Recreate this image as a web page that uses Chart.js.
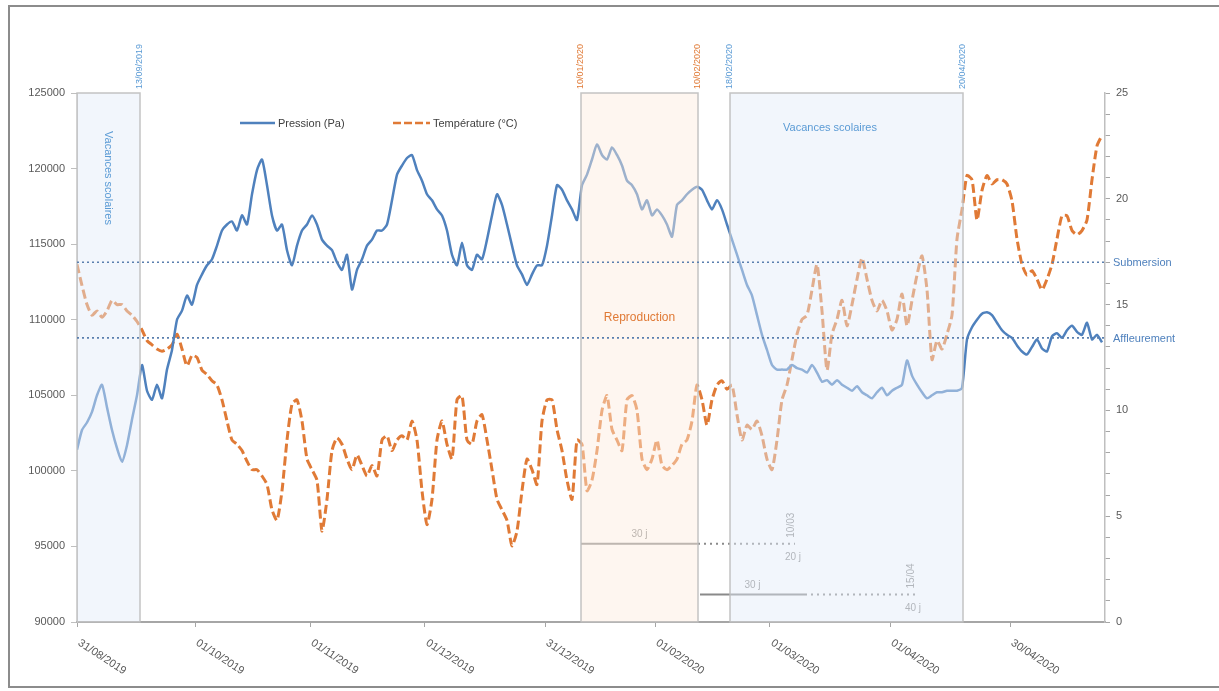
<!DOCTYPE html>
<html>
<head>
<meta charset="utf-8">
<script src="https://cdn.jsdelivr.net/npm/chart.js@4.4.1/dist/chart.umd.min.js"></script>
<style>
  html, body { margin: 0; padding: 0; background: #fff; }
</style>
</head>
<body>
<canvas id="chart" width="1219" height="691"></canvas>
<script>
// one sample per day, day 0 = first sample
const pressure = [
  101400, 102700, 103200, 103900, 105000, 105700, 104200, 102700, 101500, 100600, 101700, 103400, 105000,
  107000, 105300, 104700, 105700, 104800, 106700, 108000, 110000, 110600, 111600, 111000, 112300,
  113000, 113600, 114000, 114900, 115900, 116300, 116500, 115900, 116900, 116300, 118300, 119900,
  120600, 118900, 116900, 115900, 116300, 114600, 113600, 114900, 115900, 116300, 116900, 116300,
  115300, 114900, 114600, 113800, 113300, 114300, 112000, 113300, 114000, 114900, 115300, 115900,
  115900, 116300, 117900, 119600, 120200, 120700, 120900, 119900, 119200, 118300, 117900, 117300,
  116900, 115900, 114300, 113600, 115100, 113600, 113300, 114300, 114000, 115300, 116900, 118300,
  117600, 116300, 114900, 113600, 113000, 112300, 113000, 113600, 113600, 114900, 116900, 118900,
  118600, 117900, 117300, 116600, 118900, 119600, 120600, 121600, 120900, 120600, 121400, 120900,
  120200, 119200, 118900, 118300, 117300, 117900, 116900, 117300, 116900, 116300, 115500, 117600,
  117900, 118300, 118600, 118800, 118600, 117900, 117300, 117900, 117300, 116300, 115300, 114300,
  113300, 112300, 111600, 110300, 109000, 108000, 107000, 106700, 106700, 106700, 107000, 106800,
  106700, 106500, 107000, 106500, 105900, 106000, 105700, 106000, 105700, 105500, 105300, 105600,
  105200, 105000, 104800, 105200, 105500, 105000, 105300, 105500, 105700, 107300, 106300, 105700,
  105200, 104800, 105000, 105200, 105200, 105300, 105300, 105300, 105500, 108700, 109500, 110000,
  110400, 110500, 110300, 109800, 109300, 109000, 108800, 108300, 107900, 107700, 108200, 108700,
  108100, 107900, 108900, 109100, 108800, 109300, 109600, 109200, 109000, 109800, 108700, 109000, 108500
];
const temperature = [
  16.9, 15.9, 15.0, 14.5, 14.7, 14.4, 14.7, 15.2, 15.0, 15.0, 14.7, 14.5, 14.2,
  13.8, 13.3, 13.1, 12.9, 12.8, 12.9, 13.1, 13.6, 12.9, 12.1, 12.6, 12.5,
  11.9, 11.7, 11.4, 11.2, 10.5, 9.5, 8.6, 8.4, 8.1, 7.6, 7.2, 7.2,
  6.9, 6.5, 5.3, 4.8, 6.2, 8.6, 10.3, 10.5, 9.5, 7.7, 7.2, 6.7,
  4.3, 5.8, 8.1, 8.7, 8.4, 7.7, 7.2, 7.9, 7.4, 6.9, 7.4, 6.9,
  8.6, 8.8, 8.1, 8.6, 8.8, 8.6, 9.5, 8.6, 6.2, 4.6, 5.8, 8.6,
  9.5, 8.4, 7.7, 10.5, 10.7, 8.6, 8.4, 9.5, 9.8, 8.6, 7.2, 5.8,
  5.3, 4.8, 3.6, 4.3, 6.2, 7.7, 7.2, 6.5, 9.5, 10.5, 10.5, 9.1,
  8.1, 6.7, 5.8, 8.6, 8.4, 6.2, 6.7, 8.1, 10.0, 10.7, 9.1, 8.6,
  8.1, 10.5, 10.7, 10.0, 7.7, 7.2, 7.7, 8.6, 7.4, 7.2, 7.4, 7.7,
  8.4, 8.6, 9.5, 11.2, 10.5, 9.3, 10.5, 11.2, 11.4, 11.0, 11.2, 9.8,
  8.6, 9.3, 9.1, 9.5, 8.8, 7.7, 7.2, 8.6, 10.5, 11.2, 12.4, 13.6,
  14.3, 14.5, 15.7, 16.9, 14.7, 11.9, 13.6, 14.3, 15.2, 14.0, 15.0, 16.2,
  17.2, 16.2, 15.2, 14.7, 15.2, 14.7, 13.8, 14.3, 15.5, 14.0, 15.2, 16.4,
  17.3, 15.7, 12.4, 13.3, 12.9, 13.6, 14.5, 18.1, 19.5, 21.1, 20.9, 19.0,
  20.4, 21.1, 20.7, 20.9, 20.9, 20.7, 19.9, 18.1, 16.9, 16.4, 16.6, 16.2,
  15.7, 16.2, 16.9, 18.1, 19.2, 19.2, 18.5, 18.3, 18.5, 19.0, 20.9, 22.5, 23.0
];

const tickDays = [0, 23.6, 46.6, 69.6, 93.6, 115.6, 138.6, 162.6, 186.6];
const tickLabels = ['31/08/2019', '01/10/2019', '01/11/2019', '01/12/2019', '31/12/2019',
                    '01/02/2020', '01/03/2020', '01/04/2020', '30/04/2020'];

// shaded periods (days)
const holidayStart = [0, 130.6];
const holidayEnd = [12.6, 177.2];
const reproStart = 100.8;
const reproEnd = 124.2;
const markerDays = [12.6, 100.8, 124.2, 130.6, 177.2];
const markerDates = ['13/09/2019', '10/01/2020', '10/02/2020', '18/02/2020', '20/04/2020'];

// reference levels (Pa)
const submersion = 113800;
const affleurement = 108800;

// duration bars at the bottom (right axis level)
const durLevel = [3.7, 1.3];
const durFrom = [100.8, 124.6];
const durSolidTo = [124.2, 145.6];
const durTo = [143.6, 167.6];
const durLabel = ['30 j', '30 j'];
const durEndDate = ['10/03', '15/04'];
const durEndLabel = ['20 j', '40 j'];

const BLUE = '#4f81bd';
const ORANGE = '#e07a36';
const FONT = '"Liberation Sans", Arial, sans-serif';

const pressurePts = pressure.map((v, i) => ({ x: i, y: v }));
const tempPts = temperature.map((v, i) => ({ x: i, y: v }));

const overlay = {
  id: 'overlay',
  beforeDraw(chart) {
    const ctx = chart.ctx;
    ctx.save();
    ctx.fillStyle = '#fff';
    ctx.fillRect(0, 0, chart.width, chart.height);
    ctx.strokeStyle = '#8c8c8c';
    ctx.lineWidth = 2;
    ctx.strokeRect(9, 6, 1240, 681);
    ctx.restore();
  },
  afterDatasetsDraw(chart) {
    const ctx = chart.ctx;
    const a = chart.chartArea;
    const x = chart.scales.x, y = chart.scales.y, y2 = chart.scales.y2;
    ctx.save();

    // duration bars
    ctx.strokeStyle = '#8a8a8a';
    ctx.fillStyle = '#8a8a8a';
    ctx.font = '10px ' + FONT;
    for (let i = 0; i < durLevel.length; i++) {
      const py = y2.getPixelForValue(durLevel[i]);
      const x0 = x.getPixelForValue(durFrom[i]);
      const x1 = x.getPixelForValue(durSolidTo[i]);
      const x2 = x.getPixelForValue(durTo[i]);
      ctx.lineWidth = 2;
      ctx.setLineDash([]);
      ctx.beginPath(); ctx.moveTo(x0, py); ctx.lineTo(x1, py); ctx.stroke();
      ctx.setLineDash([2, 4]);
      ctx.beginPath(); ctx.moveTo(x1, py); ctx.lineTo(x2, py); ctx.stroke();
      ctx.setLineDash([]);
      ctx.textAlign = 'center';
      ctx.textBaseline = 'bottom';
      ctx.fillText(durLabel[i], (x0 + x1) / 2, py - 4);
      ctx.textAlign = 'right';
      ctx.textBaseline = 'top';
      ctx.fillText(durEndLabel[i], x2 + 6, py + 9);
      ctx.save();
      ctx.translate(x2 - 4, py - 6);
      ctx.rotate(-Math.PI / 2);
      ctx.textAlign = 'left';
      ctx.textBaseline = 'middle';
      ctx.fillText(durEndDate[i], 0, 0);
      ctx.restore();
    }

    // shaded periods drawn over the lines
    const box = (d0, d1, fill) => {
      const l = x.getPixelForValue(d0), r = x.getPixelForValue(d1);
      ctx.fillStyle = fill;
      ctx.fillRect(l, a.top, r - l, a.bottom - a.top);
      ctx.strokeStyle = 'rgba(190,190,190,0.9)';
      ctx.lineWidth = 1.5;
      ctx.strokeRect(l, a.top, r - l, a.bottom - a.top);
    };
    for (let i = 0; i < holidayStart.length; i++) box(holidayStart[i], holidayEnd[i], 'rgba(226,236,248,0.45)');
    box(reproStart, reproEnd, 'rgba(252,234,222,0.45)');

    // labels in the boxes
    ctx.fillStyle = '#5b9bd5';
    ctx.font = '11px ' + FONT;
    ctx.save();
    ctx.translate((x.getPixelForValue(holidayStart[0]) + x.getPixelForValue(holidayEnd[0])) / 2, 178);
    ctx.rotate(Math.PI / 2);
    ctx.textAlign = 'center';
    ctx.textBaseline = 'middle';
    ctx.fillText('Vacances scolaires', 0, 0);
    ctx.restore();
    ctx.textAlign = 'center';
    ctx.textBaseline = 'middle';
    ctx.fillText('Vacances scolaires', x.getPixelForValue(holidayStart[1]) + 100, 128);
    ctx.fillStyle = ORANGE;
    ctx.font = '12px ' + FONT;
    ctx.fillText('Reproduction', (x.getPixelForValue(reproStart) + x.getPixelForValue(reproEnd)) / 2, 318);

    // reference levels
    ctx.strokeStyle = '#5a7fae';
    ctx.lineWidth = 1.6;
    ctx.setLineDash([2, 3]);
    [submersion, affleurement].forEach(v => {
      const py = y.getPixelForValue(v);
      ctx.beginPath(); ctx.moveTo(a.left, py); ctx.lineTo(a.right, py); ctx.stroke();
    });
    ctx.setLineDash([]);
    ctx.restore();
  },
  afterDraw(chart) {
    const ctx = chart.ctx;
    const a = chart.chartArea;
    const x = chart.scales.x, y = chart.scales.y;
    ctx.save();

    // x tick labels, slanted down to the right
    ctx.fillStyle = '#595959';
    ctx.font = '11px ' + FONT;
    ctx.textAlign = 'left';
    ctx.textBaseline = 'middle';
    tickDays.forEach((d, i) => {
      const px = x.getPixelForValue(d);
      ctx.save();
      ctx.translate(px + 2, a.bottom + 20);
      ctx.rotate(0.58);
      ctx.fillText(tickLabels[i], 0, 0);
      ctx.restore();
    });

    // period dates above the plot
    ctx.font = '9px ' + FONT;
    markerDays.forEach((d, i) => {
      const px = x.getPixelForValue(d);
      ctx.save();
      ctx.translate(px, a.top - 4);
      ctx.rotate(-Math.PI / 2);
      ctx.fillStyle = (i === 1 || i === 2) ? ORANGE : '#5b9bd5';
      ctx.textAlign = 'left';
      ctx.textBaseline = 'middle';
      ctx.fillText(markerDates[i], 0, 0);
      ctx.restore();
    });

    // reference level names
    ctx.fillStyle = BLUE;
    ctx.font = '11px ' + FONT;
    ctx.textAlign = 'left';
    ctx.textBaseline = 'middle';
    ctx.fillText('Submersion', a.right + 8, y.getPixelForValue(submersion) + 1);
    ctx.fillText('Affleurement', a.right + 8, y.getPixelForValue(affleurement) + 1);

    // legend
    const ly = 123;
    ctx.lineWidth = 2.5;
    ctx.strokeStyle = BLUE;
    ctx.beginPath(); ctx.moveTo(240, ly); ctx.lineTo(275, ly); ctx.stroke();
    ctx.strokeStyle = ORANGE;
    ctx.setLineDash([8, 3]);
    ctx.beginPath(); ctx.moveTo(393, ly); ctx.lineTo(430, ly); ctx.stroke();
    ctx.setLineDash([]);
    ctx.fillStyle = '#404040';
    ctx.fillText('Pression (Pa)', 278, ly + 1);
    ctx.fillText('Température (°C)', 433, ly + 1);
    ctx.restore();
  }
};

new Chart(document.getElementById('chart'), {
  type: 'line',
  data: {
    datasets: [
      {
        label: 'Pression (Pa)',
        data: pressurePts,
        yAxisID: 'y',
        borderColor: BLUE,
        borderWidth: 2.5,
        pointRadius: 0,
        tension: 0.2
      },
      {
        label: 'Température (°C)',
        data: tempPts,
        yAxisID: 'y2',
        borderColor: ORANGE,
        borderWidth: 3,
        borderDash: [9, 4],
        pointRadius: 0,
        tension: 0.2
      }
    ]
  },
  options: {
    responsive: false,
    animation: false,
    layout: { padding: { top: 93, left: 0, right: 0, bottom: 0 } },
    plugins: {
      legend: { display: false },
      tooltip: { enabled: false }
    },
    scales: {
      x: {
        type: 'linear',
        min: 0,
        max: 205.6,
        afterBuildTicks: s => { s.ticks = tickDays.map(v => ({ value: v })); },
        afterFit: s => { s.height = 69; },
        ticks: { display: false },
        grid: { drawOnChartArea: false, drawTicks: true, tickLength: 5, color: '#a6a6a6' },
        border: { color: '#a6a6a6', width: 2 }
      },
      y: {
        position: 'left',
        min: 90000,
        max: 125000,
        afterFit: s => { s.width = 77; },
        ticks: {
          stepSize: 5000,
          color: '#595959',
          font: { family: FONT, size: 11 },
          padding: 6,
          callback: v => String(v)
        },
        grid: { drawOnChartArea: false, tickLength: 6, color: '#bfbfbf' },
        border: { color: '#d0d0d0', width: 1 }
      },
      y2: {
        position: 'right',
        min: 0,
        max: 25,
        afterFit: s => { s.width = 114; },
        ticks: {
          stepSize: 1,
          autoSkip: false,
          color: '#595959',
          font: { family: FONT, size: 11 },
          padding: 6,
          callback: v => (v % 5 === 0 ? String(v) : '')
        },
        grid: { drawOnChartArea: false, tickLength: 5, color: '#a6a6a6' },
        border: { color: '#bfbfbf', width: 1.5 }
      }
    }
  },
  plugins: [overlay]
});
</script>
</body>
</html>
